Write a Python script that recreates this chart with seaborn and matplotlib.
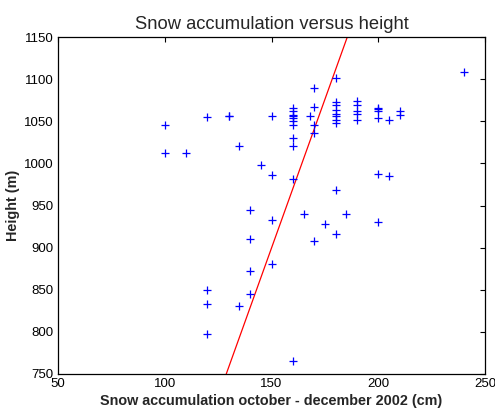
import matplotlib
matplotlib.use("Agg")
import matplotlib.pyplot as plt
import seaborn as sns
import pandas as pd

# Snow accumulation (cm) and height (m) per measuring point
snow = [100, 100, 110,
        120, 120, 120, 120,
        130, 130,
        135, 135,
        140, 140, 140, 140,
        145,
        150, 150, 150, 150,
        160, 160, 160, 160, 160, 160, 160, 160, 160, 160, 160,
        165, 168,
        170, 170, 170, 170, 170,
        175,
        180, 180, 180, 180, 180, 180, 180, 180, 180, 180,
        185,
        190, 190, 190, 190, 190,
        200, 200, 200, 200, 200, 200,
        205, 205,
        210, 210,
        240]
height = [1045, 1012, 1012,
          1055, 850, 833, 798,
          1056, 1056,
          1021, 831,
          945, 910, 872, 845,
          998,
          1056, 986, 933, 881,
          1066, 1062, 1058, 1056, 1054, 1050, 1046, 1030, 1021, 981, 766,
          940, 1056,
          1090, 1067, 1045, 1036, 908,
          928,
          1101, 1073, 1069, 1063, 1059, 1056, 1052, 1048, 968, 916,
          940,
          1074, 1069, 1062, 1059, 1052,
          1066, 1064, 1062, 1054, 987, 930,
          1052, 985,
          1062, 1058,
          1109]

# fitted line end points
fit_snow = [128.8, 185.5]
fit_height = [750, 1150]

x_ticks = [50, 100, 150, 200, 250]
y_ticks = [750, 800, 850, 900, 950, 1000, 1050, 1100, 1150]

sns.set_style("white")
plt.rcParams['font.family'] = ['Liberation Sans', 'DejaVu Sans']

df = pd.DataFrame({'snow': snow, 'height': height})

fig = plt.figure(figsize=(4.95, 4.15), dpi=100)
ax = fig.add_axes([0.1172, 0.0988, 0.8626, 0.812])

sns.scatterplot(data=df, x='snow', y='height', marker='+', color='blue',
                s=38, linewidth=0.9, ax=ax, zorder=3)
sns.lineplot(x=fit_snow, y=fit_height, color='red', linewidth=0.9, ax=ax, zorder=2)

ax.set_xlim(50, 250)
ax.set_ylim(750, 1150)
ax.set_xticks(x_ticks)
ax.set_yticks(y_ticks)
ax.tick_params(direction='in', top=True, right=True, length=3.5, width=0.8,
               labelsize=9.5, colors='black', pad=3)
for sp in ax.spines.values():
    sp.set_color('black')
    sp.set_linewidth(0.9)

ax.set_title('Snow accumulation versus height', fontsize=13.2, pad=6)
ax.set_xlabel('Snow accumulation october - december 2002 (cm)', fontsize=10.4,
              fontweight='bold', labelpad=3)
ax.set_ylabel('Height (m)', fontsize=10.4, fontweight='bold', labelpad=3)

fig.savefig('out.png', dpi=100)
